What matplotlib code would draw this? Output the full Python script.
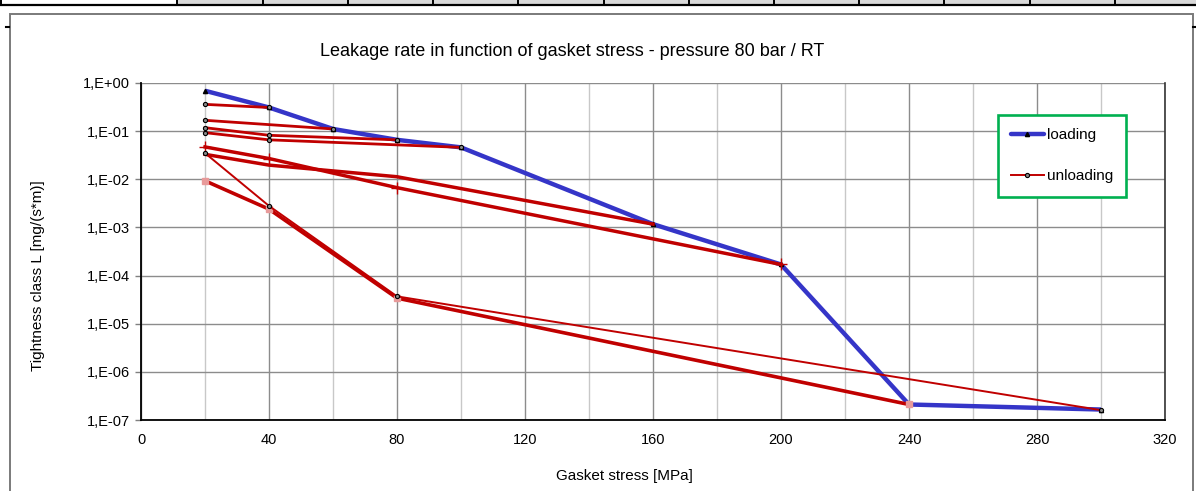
import matplotlib
matplotlib.use("Agg")
import matplotlib.pyplot as plt
from matplotlib.lines import Line2D
from matplotlib.patches import Rectangle
from matplotlib.ticker import FixedLocator, FuncFormatter, MultipleLocator
import numpy as np

plt.rcParams['font.family'] = ['Liberation Sans', 'DejaVu Sans']

# ---------------- data ----------------
title = "Leakage rate in function of gasket stress - pressure 80 bar / RT"
xlabel = "Gasket stress [MPa]"
ylabel = "Tightness class L [mg/(s*m)]"

loading_x = [20, 40, 60, 80, 100, 160, 200, 240, 300]
loading_y = [0.69, 0.31, 0.111, 0.066, 0.046, 1.17e-3, 1.7e-4, 2.1e-7, 1.65e-7]

unl40_x = [40, 20]
unl40_y = [0.31, 0.36]
unl60_x = [60, 20]
unl60_y = [0.111, 0.168]
unl80_x = [80, 40, 20]
unl80_y = [0.066, 0.082, 0.118]
unl100_x = [100, 40, 20]
unl100_y = [0.046, 0.066, 0.093]
unl160_x = [160, 80, 40, 20]
unl160_y = [1.17e-3, 0.0113, 0.0197, 0.033]
unl200_x = [200, 80, 40, 20]
unl200_y = [1.7e-4, 6.7e-3, 0.027, 0.047]
unl240_x = [240, 80, 40, 20]
unl240_y = [2.1e-7, 3.4e-5, 2.4e-3, 9.3e-3]
unl300_x = [300, 80, 40, 20]
unl300_y = [1.6e-7, 3.7e-5, 2.8e-3, 0.035]

x_ticks = [0, 40, 80, 120, 160, 200, 240, 280, 320]
y_ticks = [1e0, 1e-1, 1e-2, 1e-3, 1e-4, 1e-5, 1e-6, 1e-7]
y_ticklabels = ["1,E+00", "1,E-01", "1,E-02", "1,E-03", "1,E-04", "1,E-05", "1,E-06", "1,E-07"]
legend_labels = ["loading", "unloading"]

# ---------------- figure ----------------
W, H = 1196, 491
fig = plt.figure(figsize=(W / 100, H / 100), dpi=100)
fig.patch.set_facecolor("white")

def fx(px):
    return px / W

def fy(py):
    return 1 - py / H

# table fragment at the top
fig.patches.append(Rectangle((fx(177), fy(4)), fx(1196) - fx(177), fy(0) - fy(4),
                             transform=fig.transFigure, facecolor="#d9d9d9", edgecolor="none"))
fig.add_artist(Line2D([0, 1], [fy(4.5), fy(4.5)], transform=fig.transFigure, color="black", lw=1.6))
for sx in [0.8, 177, 263, 348, 433, 518, 604, 689, 774, 859, 944, 1030, 1115]:
    fig.add_artist(Line2D([fx(sx), fx(sx)], [fy(0), fy(5)], transform=fig.transFigure, color="black", lw=1.4))

# chart frame
fig.patches.append(Rectangle((fx(10), fy(495)), fx(1193) - fx(10), fy(14) - fy(495),
                             transform=fig.transFigure, facecolor="none", edgecolor="#7a7a7a", lw=1.4))
fig.add_artist(Line2D([fx(6), fx(9)], [fy(27), fy(27)], transform=fig.transFigure, color="black", lw=1.5))
fig.add_artist(Line2D([fx(1193), fx(1196)], [fy(27), fy(27)], transform=fig.transFigure, color="black", lw=1.5))

ax = fig.add_axes([fx(141), fy(420), fx(1165) - fx(141), fy(83) - fy(420)])
ax.set_yscale("log")
ax.set_xlim(0, 320)
ax.set_ylim(1e-7, 1e0)

# grid
ax.xaxis.set_major_locator(FixedLocator(x_ticks))
ax.xaxis.set_minor_locator(MultipleLocator(20))
ax.yaxis.set_major_locator(FixedLocator(y_ticks))
ax.yaxis.set_minor_locator(FixedLocator([]))
ax.grid(True, which="major", axis="both", color="#8c8c8c", lw=1.0)
ax.grid(True, which="minor", axis="x", color="#c8c8c8", lw=1.0)
ax.set_axisbelow(True)

ax.yaxis.set_major_formatter(FuncFormatter(lambda v, p: y_ticklabels[y_ticks.index(v)] if v in y_ticks else ""))
ax.tick_params(axis="y", which="major", length=4, width=1, color="#808080", pad=4, labelsize=10.5)
ax.tick_params(axis="x", which="both", length=0, pad=9, labelsize=10.5)

for s in ["left", "bottom"]:
    ax.spines[s].set_color("black")
    ax.spines[s].set_linewidth(1.3)
ax.spines["top"].set_visible(False)
ax.spines["right"].set_color("#333333")
ax.spines["right"].set_linewidth(1.2)

blue = "#3535c8"
red = "#c00000"
pink = "#e89a9a"

ax.plot(loading_x, loading_y, color=blue, lw=3.2, marker="^", ms=3, mfc="black", mec="black",
        zorder=3, solid_capstyle="butt")

small_o = dict(marker="o", ms=3, mfc="#888888", mec="black", mew=0.8)
ax.plot(unl40_x, unl40_y, color=red, lw=2.0, zorder=4, **small_o)
ax.plot(unl60_x, unl60_y, color=red, lw=2.0, zorder=4, **small_o)
ax.plot(unl80_x, unl80_y, color=red, lw=2.0, zorder=4, **small_o)
ax.plot(unl100_x, unl100_y, color=red, lw=2.0, zorder=4, **small_o)
ax.plot(unl160_x, unl160_y, color=red, lw=2.5, zorder=4)
ax.plot(unl200_x, unl200_y, color=red, lw=2.5, zorder=4, marker="+", ms=9, mec=red, mew=1.0)
ax.plot(unl240_x, unl240_y, color=red, lw=2.6, zorder=4, marker="s", ms=4.5, mfc=pink, mec=pink)
ax.plot(unl300_x, unl300_y, color=red, lw=1.4, zorder=5, **small_o)

# legend
h1 = Line2D([], [], color=blue, lw=3.2, marker="^", ms=3, mfc="black", mec="black", solid_capstyle="round")
h2 = Line2D([], [], color=red, lw=1.4, marker="o", ms=3, mfc="#888888", mec="black", mew=0.8)
leg = ax.legend([h1, h2], legend_labels, loc="upper left",
                bbox_to_anchor=((998 - 141) / 1024, (420 - 115) / 337),
                frameon=True, fancybox=False, edgecolor="#00b050", facecolor="white",
                fontsize=11, handlelength=2.1, handletextpad=0.2, labelspacing=1.75,
                borderpad=0.88, borderaxespad=0, framealpha=1)
leg.get_frame().set_linewidth(1.9)

fig.text(fx(572), fy(52), title, ha="center", va="center", fontsize=13)
fig.text(fx(624), fy(476), xlabel, ha="center", va="center", fontsize=11)
fig.text(fx(38), fy(276), ylabel, ha="center", va="center", rotation=90, fontsize=11)

fig.savefig("out.png", dpi=100, facecolor="white")
